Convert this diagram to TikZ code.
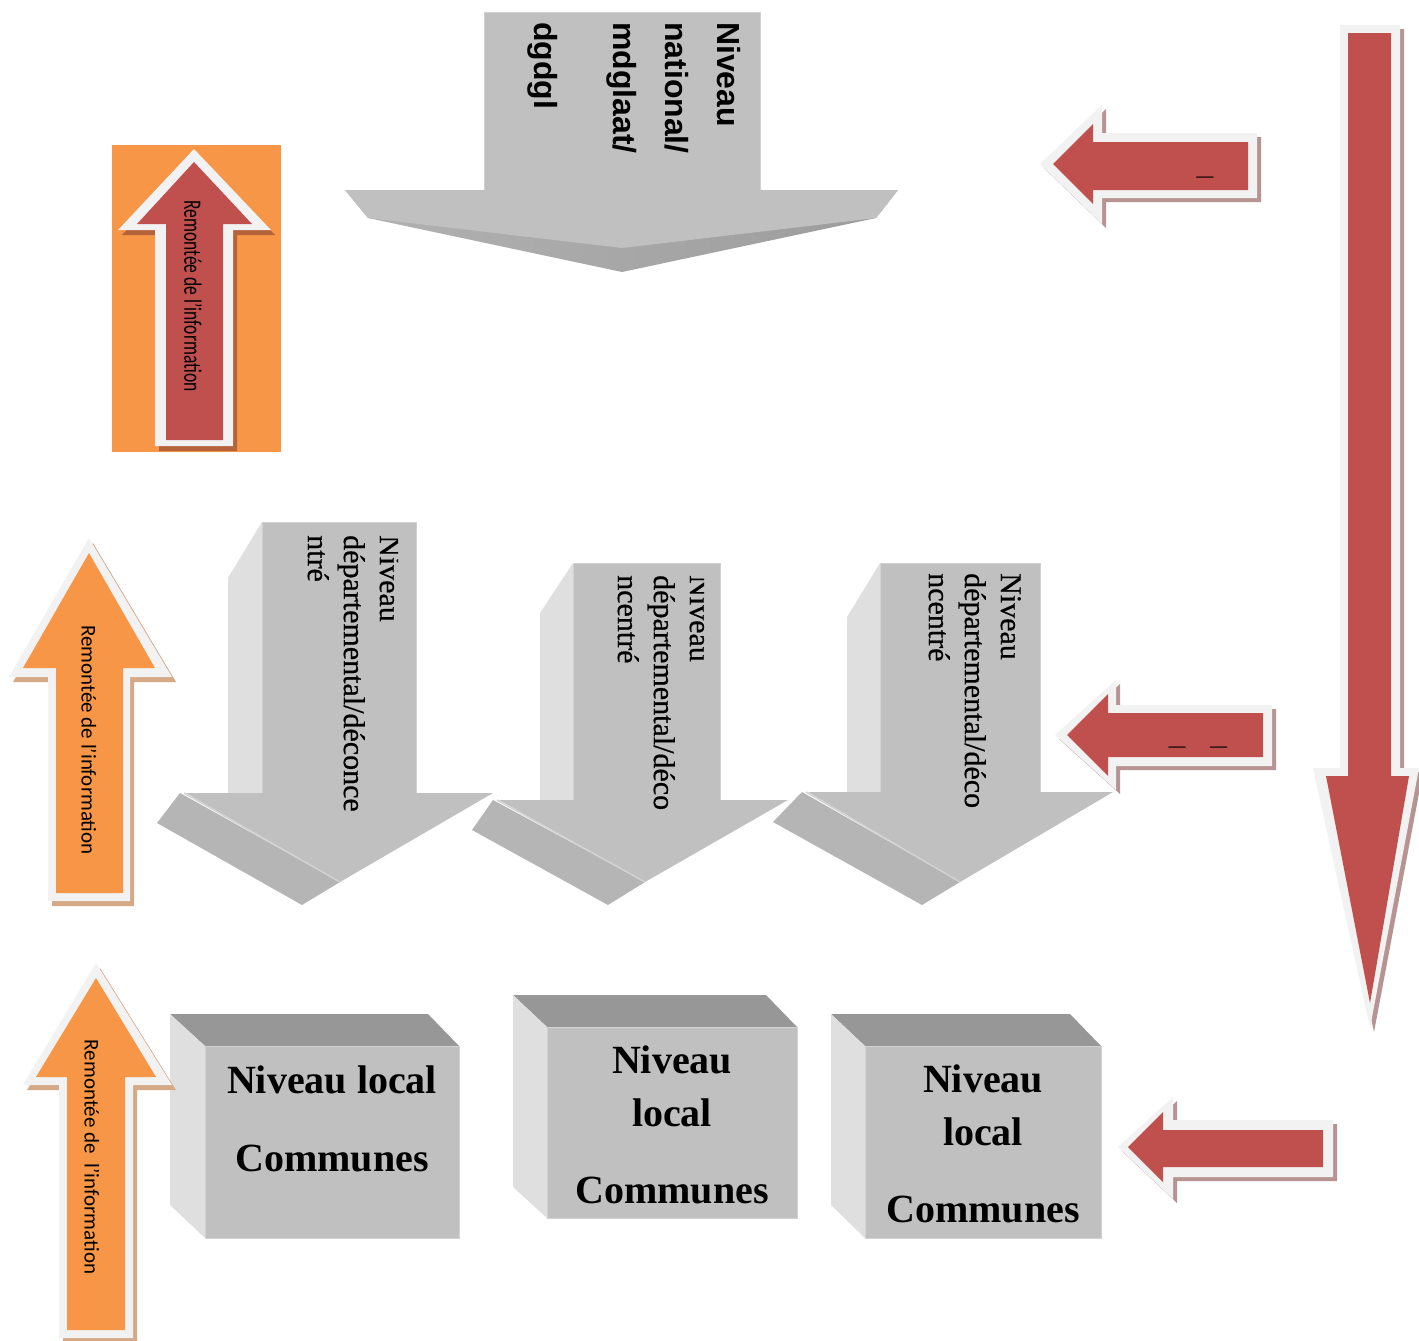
\documentclass[tikz,border=0pt]{standalone}
\usepackage{fontspec}
\setmainfont{Liberation Serif}
\newfontfamily\natfont{Liberation Sans}
\newfontfamily\calfont{Carlito}
\newfontface\deptfont{Liberation Serif}[FakeBold=0.6]
\usepackage{tikz}
\usetikzlibrary{shadows}

\definecolor{greyfront}{HTML}{C0C0C0}
\definecolor{greyedge}{HTML}{D2D2D2}
\definecolor{greyside}{HTML}{DFDFDF}
\definecolor{greylid}{HTML}{979797}
\definecolor{greyband}{HTML}{B5B5B5}
\definecolor{bandleft}{HTML}{B2B2B2}
\definecolor{bandright}{HTML}{9C9C9C}
\definecolor{rimwhite}{HTML}{F2F2F2}
\definecolor{infoorange}{HTML}{F79646}
\definecolor{downred}{HTML}{C0504D}
\definecolor{redshade}{HTML}{B79392}
\definecolor{orangeshade}{HTML}{D5A886}
\definecolor{boxshade}{HTML}{B4633A}

\begin{document}
\begin{tikzpicture}[x=1pt, y=-1pt,
    front/.style={fill=greyfront, draw=greyedge, line width=0.8pt},
    side/.style={fill=greyside},
    lid/.style={fill=greylid},
    band/.style={fill=greyband},
    rimred/.style={fill=rimwhite, drop shadow={shadow xshift=4pt, shadow yshift=-4pt, fill=redshade, opacity=1}},
    rimorange/.style={fill=rimwhite, drop shadow={shadow xshift=4pt, shadow yshift=-5pt, fill=#1, opacity=1}},
    dept/.style={rotate=-90, anchor=north west, align=left, inner sep=0pt, font=\deptfont\fontsize{30}{36}\selectfont},
    cubetext/.style={anchor=base, inner sep=0pt, font=\bfseries\fontsize{40}{40}\selectfont},
    upinfo/.style={rotate=-90, inner sep=0pt, font=\calfont\fontsize{21}{21}\selectfont}]
    \useasboundingbox[fill=white] (0,0) rectangle (1419,1341);

    % Orange box with the red arrow
    \fill[infoorange] (112,145) rectangle (281,452);
    \fill[rimorange=boxshade] (155,446) -- (155,230) -- (118,230) -- (194,149) -- (271,230) -- (233,230) -- (233,446) -- cycle;
    \fill[downred] (166,440) -- (166,224) -- (137,224) -- (194,162) -- (252,224) -- (223,224) -- (223,440) -- cycle;

    % National arrow
    \fill[front] (484,12) rectangle (760,190);
    \shade[left color=bandleft, right color=bandright] (345,190) -- (368,218) -- (622,272) -- (876,218) -- (898,190) -- cycle;
    \fill[greyfront] (345,190) -- (898,190) -- (876,218) -- (622,248) -- (368,218) -- cycle;

    % Departement arrows
    \fill[side] (262,522) -- (228,578) -- (228,795) -- (262,795) -- cycle;
    \fill[front] (262,522) rectangle (416,795);
    \fill[band] (180,793) -- (157,823) -- (302,905) -- (340,882) -- cycle;
    \fill[greyfront] (186,793) -- (493,793) -- (340,882) -- cycle;
    \draw[greyedge, line width=1.5pt] (184,793) -- (340,882);

    \fill[side] (573,563) -- (540,613) -- (540,800) -- (573,800) -- cycle;
    \fill[front] (573,563) rectangle (720,800);
    \fill[band] (493,800) -- (472,830) -- (608,905) -- (645,882) -- cycle;
    \fill[greyfront] (499,800) -- (788,800) -- (645,882) -- cycle;
    \draw[greyedge, line width=1.5pt] (497,800) -- (645,882);

    \fill[side] (880,563) -- (847,617) -- (847,792) -- (880,792) -- cycle;
    \fill[front] (880,563) rectangle (1040,792);
    \fill[band] (802,792) -- (773,822) -- (922,905) -- (960,882) -- cycle;
    \fill[greyfront] (808,792) -- (1113,792) -- (960,882) -- cycle;
    \draw[greyedge, line width=1.5pt] (806,792) -- (960,882);

    % Local boxes
    \fill[lid] (170,1014) -- (428,1014) -- (459,1046) -- (205,1046) -- cycle;
    \fill[side] (170,1014) -- (205,1046) -- (205,1238) -- (170,1205) -- cycle;
    \fill[front] (205,1046) rectangle (459,1238);

    \fill[lid] (513,995) -- (766,995) -- (797,1027) -- (547,1027) -- cycle;
    \fill[side] (513,995) -- (547,1027) -- (547,1218) -- (513,1187) -- cycle;
    \fill[front] (547,1027) rectangle (797,1218);

    \fill[lid] (831,1014) -- (1070,1014) -- (1101,1046) -- (865,1046) -- cycle;
    \fill[side] (831,1014) -- (865,1046) -- (865,1238) -- (831,1205) -- cycle;
    \fill[front] (865,1046) rectangle (1101,1238);

    % Orange arrows on the left
    \fill[rimorange=orangeshade] (48,901) -- (48,677) -- (9,677) -- (89,538) -- (172,677) -- (130,677) -- (130,901) -- cycle;
    \fill[infoorange] (56,893) -- (56,668) -- (23,668) -- (89,553) -- (155,668) -- (123,668) -- (123,893) -- cycle;

    \fill[rimorange=orangeshade] (59,1338) -- (59,1085) -- (23,1085) -- (96,963) -- (172,1085) -- (133,1085) -- (133,1338) -- cycle;
    \fill[infoorange] (67,1330) -- (67,1077) -- (36,1077) -- (96,978) -- (156,1077) -- (125,1077) -- (125,1330) -- cycle;

    % Red arrows on the right
    \fill[rimred] (1040,164) -- (1102,105) -- (1102,133) -- (1257,133) -- (1257,198) -- (1102,198) -- (1102,224) -- cycle;
    \fill[downred] (1053,164) -- (1093,124) -- (1093,142) -- (1248,142) -- (1248,190) -- (1093,190) -- (1093,204) -- cycle;

    \fill[rimred] (1055,735) -- (1116,680) -- (1116,705) -- (1272,705) -- (1272,766) -- (1116,766) -- (1116,790) -- cycle;
    \fill[downred] (1067,735) -- (1108,694) -- (1108,713) -- (1263,713) -- (1263,757) -- (1108,757) -- (1108,776) -- cycle;

    \fill[rimred] (1118,1147) -- (1173,1097) -- (1173,1120) -- (1333,1120) -- (1333,1177) -- (1173,1177) -- (1173,1199) -- cycle;
    \fill[downred] (1128,1147) -- (1163,1112) -- (1163,1130) -- (1323,1130) -- (1323,1167) -- (1163,1167) -- (1163,1182) -- cycle;

    \fill[rimred] (1340,25) -- (1400,25) -- (1400,768) -- (1419,768) -- (1370,1028) -- (1313,768) -- (1340,768) -- cycle;
    \fill[downred] (1348,33) -- (1391,33) -- (1391,776) -- (1409,776) -- (1370,1003) -- (1326,776) -- (1348,776) -- cycle;

    % Labels
    \node[rotate=-90, anchor=north west, align=left, inner sep=0pt,
          font=\natfont\bfseries\fontsize{32}{52}\selectfont] (national) at (741,22)
          {Niveau\\national/\\mdglaat/\\[27pt]dgdgl};

    \begin{scope}
        \clip (262,522) rectangle (398,840);
        \node[dept] (dep1) at (400,535) {Niveau\\départemental/déconce\\ntré};
    \end{scope}
    \begin{scope}
        \clip (573,563) rectangle (704,840);
        \node[dept] (dep2) at (710,575) {Niveau\\départemental/déco\\ncentré};
    \end{scope}
    \node[dept] (dep3) at (1021,573) {Niveau\\départemental/déco\\ncentré};

    \node[cubetext] (loc1) at (332,1093) {Niveau local};
    \node[cubetext] (com1) at (332,1171) {Communes};
    \node[cubetext] (niv2) at (672,1073) {Niveau};
    \node[cubetext] (loc2) at (672,1126) {local};
    \node[cubetext] (com2) at (672,1203) {Communes};
    \node[cubetext] (niv3) at (983,1092) {Niveau};
    \node[cubetext] (loc3) at (983,1145) {local};
    \node[cubetext] (com3) at (983,1222) {Communes};

    \node[upinfo, font=\calfont\fontsize{25}{25}\selectfont] (info1) at (193,296) {\scalebox{0.7}[1]{Remontée de l’information}};
    \node[upinfo] (info2) at (89,740) {Remontée de l’information};
    \node[upinfo] (info3) at (92,1157) {Remontée de~~l’information};

    \node[anchor=base, inner sep=0pt, font=\natfont\bfseries\fontsize{30}{30}\selectfont] (dash1) at (1205,174) {\_};
    \node[anchor=base, inner sep=0pt, font=\natfont\bfseries\fontsize{30}{30}\selectfont] (dash2) at (1198,744) {\_\hspace{25pt}\_};
\end{tikzpicture}
\end{document}
